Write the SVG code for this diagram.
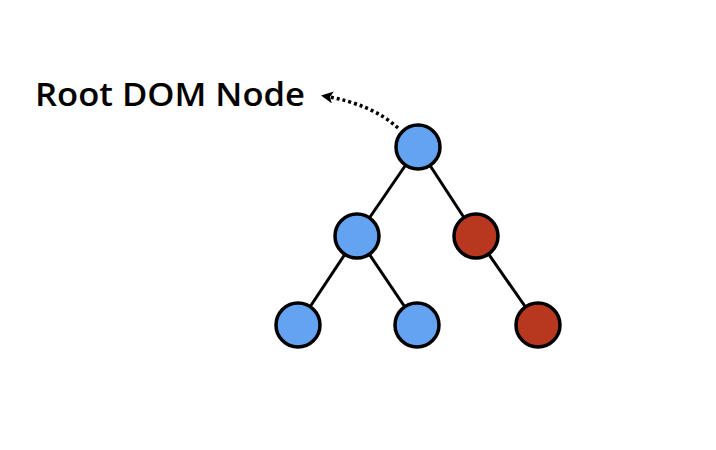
<svg xmlns="http://www.w3.org/2000/svg" width="716" height="450" viewBox="0 0 716 450">
<style>
.edge{stroke:#000;stroke-width:3;fill:none}
.blue{fill:#63A3F1;stroke:#000;stroke-width:3.5}
.red{fill:#B8371F;stroke:#000;stroke-width:3.5}
.lbl{font-family:"Open Sans","Liberation Sans",sans-serif;font-size:33px;font-weight:600;fill:#000}
</style>
<defs>
<marker id="ah" markerWidth="14" markerHeight="14" refX="9" refY="6" orient="auto" markerUnits="userSpaceOnUse">
<path d="M0,0 L12,6 L0,12 L3,6 Z" fill="#000"/>
</marker>
</defs>
<rect width="716" height="450" fill="#fff"/>
<g id="connectors">
<line class="edge" x1="418" y1="147" x2="357" y2="236"/>
<line class="edge" x1="418" y1="147" x2="476" y2="236"/>
<line class="edge" x1="357" y1="236" x2="298" y2="325"/>
<line class="edge" x1="357" y1="236" x2="417" y2="325"/>
<line class="edge" x1="476" y1="236" x2="538" y2="325"/>
<path d="M398,128 Q372,104 324,96" fill="none" stroke="#000" stroke-width="3.5" stroke-dasharray="3,3" marker-end="url(#ah)"/>
</g>
<g id="label"><text class="lbl" x="35" y="106" textLength="270" lengthAdjust="spacingAndGlyphs">Root DOM Node</text></g>
<g id="n1"><circle class="blue" cx="418" cy="147" r="22"/></g>
<g id="n2"><circle class="blue" cx="357" cy="236" r="22"/></g>
<g id="n3"><circle class="red" cx="476" cy="236" r="22"/></g>
<g id="n4"><circle class="blue" cx="298" cy="325" r="22"/></g>
<g id="n5"><circle class="blue" cx="417" cy="325" r="22"/></g>
<g id="n6"><circle class="red" cx="538" cy="325" r="22"/></g>
</svg>
